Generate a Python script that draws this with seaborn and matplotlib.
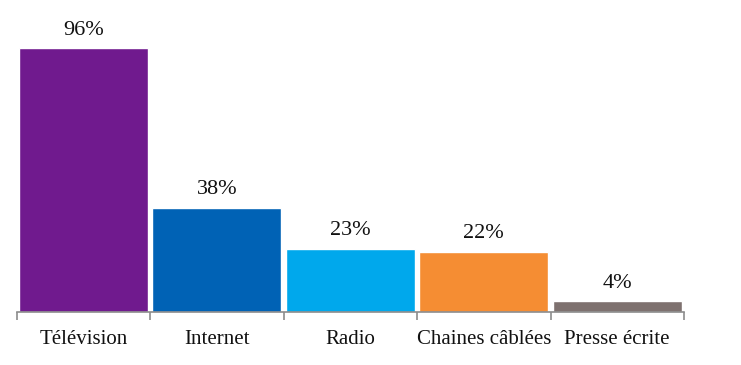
import matplotlib
matplotlib.use("Agg")
import matplotlib.pyplot as plt
import seaborn as sns
import pandas as pd
from matplotlib.ticker import FixedLocator

categories = ["Télévision", "Internet", "Radio", "Chaines câblées", "Presse écrite"]
values = [96, 38, 23, 22, 4]
labels = ["96%", "38%", "23%", "22%", "4%"]
colors = ["#701A8E", "#0062B5", "#00A8EC", "#F58D33", "#7E716F"]

sns.set_theme(style="white")
plt.rcParams["font.family"] = ["Liberation Serif", "DejaVu Serif"]

df = pd.DataFrame({"cat": categories, "val": values})

fig = plt.figure(figsize=(7.41, 3.65), dpi=100)
ax = fig.add_axes([16.5 / 741, 53 / 365, (684 - 16.5) / 741, 275 / 365])
sns.barplot(data=df, x="cat", y="val", hue="cat", palette=colors, order=categories,
            hue_order=categories, width=0.963, legend=False, saturation=1, ax=ax)

ax.set_xlim(-0.5, len(categories) - 0.5)
ax.set_ylim(0, 100)
for i, (v, lab) in enumerate(zip(values, labels)):
    ax.annotate(lab, (i, v), xytext=(0, 6), textcoords="offset points",
                ha="center", va="bottom", fontsize=16, color="#111111",
                annotation_clip=False)

for s in ["top", "left", "right"]:
    ax.spines[s].set_visible(False)
ax.spines["bottom"].set_color("#8C8C8C")
ax.spines["bottom"].set_linewidth(1.2)
ax.set_yticks([])
ax.set_xlabel("")
ax.set_ylabel("")
ax.tick_params(axis="x", which="major", length=0, pad=13, labelsize=15, labelcolor="#111111")
ax.xaxis.set_minor_locator(FixedLocator([i - 0.5 for i in range(len(categories) + 1)]))
ax.tick_params(axis="x", which="minor", length=6, width=1.2, color="#8C8C8C", bottom=True)

fig.savefig("out.png", dpi=100)
